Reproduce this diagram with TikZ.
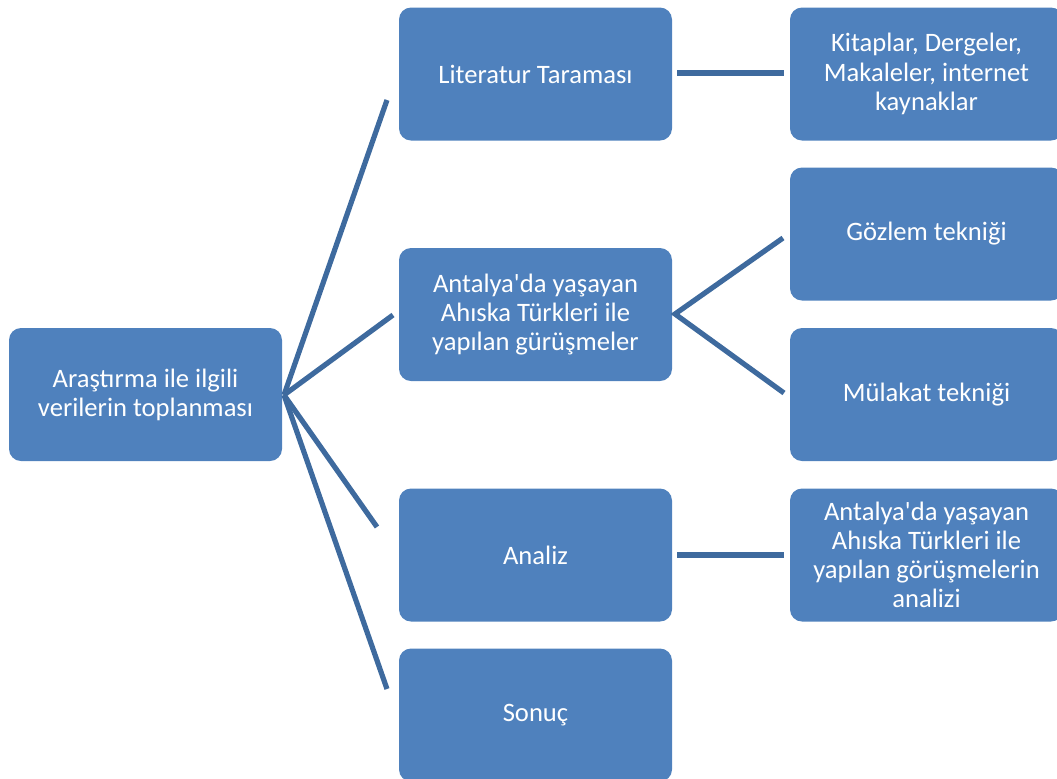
\documentclass[tikz,border=0pt]{standalone}
\usepackage{fontspec}
\setmainfont{Carlito}
\usepackage{tikz}
\definecolor{boxblue}{RGB}{79, 129, 189}
\definecolor{lineblue}{RGB}{62, 106, 158}
\tikzset{
  stage/.style={fill=boxblue, draw=none, rounded corners=6pt, text=white,
    minimum width=136.5pt, minimum height=66.5pt, align=center,
    font=\fontsize{13.3}{14.6}\selectfont},
  link/.style={lineblue, line width=2.6pt}
}

\begin{document}
\begin{tikzpicture}[x=0.5pt, y=-0.5pt]

  \useasboundingbox (0, 0) rectangle (1057, 778);

  % boxes
  \node[stage] (root) at (145.5, 394.5) {Araştırma ile ilgili\\verilerin toplanması};

  \node[stage] (lit)    at (535.5, 74)    {Literatur Taraması};
  \node[stage] (gorus)  at (535.5, 314.5) {Antalya\textquotesingle da yaşayan\\Ahıska Türkleri ile\\yapılan gürüşmeler};
  \node[stage] (analiz) at (535.5, 555)   {Analiz};
  \node[stage] (sonuc)  at (535.5, 715)   {Sonuç};

  \node[stage] (kaynak) at (926.5, 74)    {Kitaplar, Dergeler,\\Makaleler, internet\\kaynaklar};
  \node[stage] (gozlem) at (926.5, 234)   {Gözlem tekniği};
  \node[stage] (mulakat) at (926.5, 394.5) {Mülakat tekniği};
  \node[stage] (ganaliz) at (926.5, 555)  {Antalya\textquotesingle da yaşayan\\Ahıska Türkleri ile\\yapılan görüşmelerin\\analizi};

  % free ends of the lines
  \coordinate (r0) at (284, 395);
  \coordinate (r1) at (387, 100);
  \coordinate (r2) at (393, 315);
  \coordinate (r3) at (377, 527);
  \coordinate (r4) at (387, 689);

  \coordinate (l0) at (677, 73);
  \coordinate (l1) at (784, 73);
  \coordinate (g0) at (675, 314);
  \coordinate (g1) at (783, 238);
  \coordinate (g2) at (784, 393);
  \coordinate (a0) at (677, 555);
  \coordinate (a1) at (784, 555);

  % lines
  \foreach \e in {r1, r2, r3, r4} {
    \draw[link] (r0) -- (\e);
  }
  \draw[link] (l0) -- (l1);
  \draw[link] (g1) -- (g0) -- (g2);
  \draw[link] (a0) -- (a1);

\end{tikzpicture}
\end{document}
